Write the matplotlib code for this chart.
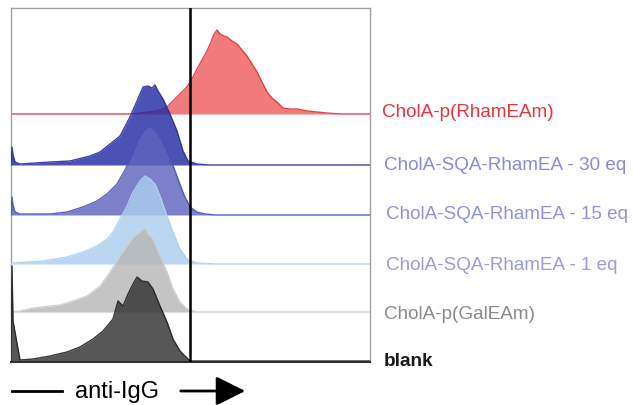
import numpy as np
import matplotlib
matplotlib.use("Agg")
import matplotlib.pyplot as plt
from matplotlib.colors import to_rgb

plt.rcParams['font.family'] = ['Liberation Sans', 'DejaVu Sans']

# histogram traces, x = channel, y = counts (stacked offsets below)
red_x = [0, 119, 139, 149, 156, 162, 169, 176, 182, 186, 191, 196, 200, 203, 206, 209, 213, 216, 221, 226, 231, 236, 241, 246, 251, 256, 261, 266, 272, 279, 286, 296, 306, 316, 329, 359]
red_y = [0, 0, 2, 4, 7, 13, 20, 27, 37, 45, 54, 63, 72, 80, 84, 80, 78, 77, 73, 70, 64, 58, 50, 42, 32, 22, 16, 12, 6, 5, 5, 3, 2, 1, 0, 0]

dblue_x = [0, 1, 2, 4, 9, 39, 59, 79, 89, 99, 109, 119, 126, 132, 137, 141, 144, 147, 152, 159, 166, 172, 177, 186, 199, 359]
dblue_y = [0, 18, 10, 3, 1, 3, 4, 9, 13, 21, 29, 48, 64, 78, 79, 77, 80, 74, 66, 51, 34, 14, 4, 1, 0, 0]

mblue_x = [0, 1, 2, 4, 9, 39, 56, 72, 86, 96, 106, 114, 121, 127, 133, 138, 143, 149, 155, 161, 167, 173, 179, 186, 194, 204, 359]
mblue_y = [0, 18, 10, 3, 1, 1, 3, 8, 14, 21, 31, 45, 60, 75, 85, 89, 86, 78, 66, 52, 36, 20, 8, 3, 1, 0, 0]

lblue_x = [0, 1, 32, 56, 72, 86, 96, 102, 109, 116, 122, 129, 134, 139, 144, 149, 156, 162, 169, 176, 186, 204, 359]
lblue_y = [0, 1, 3, 7, 12, 18, 25, 32, 45, 58, 72, 83, 88, 85, 80, 68, 48, 32, 15, 5, 1, 0, 0]

gray_x = [0, 9, 22, 39, 49, 62, 76, 89, 99, 109, 116, 122, 129, 134, 137, 142, 149, 156, 162, 169, 176, 186, 359]
gray_y = [0, 1, 4, 6, 7, 11, 16, 26, 40, 56, 66, 75, 80, 84, 78, 73, 56, 40, 23, 10, 3, 0, 0]

black_x = [0, 1, 2, 9, 22, 39, 56, 69, 82, 92, 102, 107, 112, 117, 122, 126, 131, 137, 142, 149, 156, 162, 169, 176, 179, 359]
black_y = [0, 95, 40, 1, 2, 5, 9, 14, 22, 30, 42, 60, 55, 67, 77, 84, 80, 79, 72, 55, 39, 22, 10, 3, 0, 0]

labels = ['CholA-p(RhamEAm)', 'CholA-SQA-RhamEA - 30 eq', 'CholA-SQA-RhamEA - 15 eq',
          'CholA-SQA-RhamEA - 1 eq', 'CholA-p(GalEAm)', 'blank']

series = [
    # x, y, offset, fill, edge, label colour, label y (px), label x (px)
    (red_x, red_y, 248, '#f27a7a', '#e2323c', '#e8343c', 113, 382),
    (dblue_x, dblue_y, 197, '#4c51b4', '#2c309c', '#8a8bd6', 166, 384),
    (mblue_x, mblue_y, 147, '#7c80c8', '#4a50b2', '#9294d8', 215, 386),
    (lblue_x, lblue_y, 98, '#bad7f2', '#b0d2f0', '#9a9ddc', 265, 386),
    (gray_x, gray_y, 50, '#c4c4c4', '#cfcfcf', '#8a8a8a', 315, 384),
    (black_x, black_y, 1, '#575757', '#222222', '#1a1a1a', 362, 384),
]

ALPHA = 0.82


def under_alpha(c, a=ALPHA):
    # colour that looks like c over white when drawn with alpha a
    rgb = np.array(to_rgb(c))
    return tuple(np.clip((rgb - (1 - a)) / a, 0, 1))


W, H = 633, 406
fig = plt.figure(figsize=(W / 100, H / 100), dpi=100)
ax = fig.add_axes([11 / W, (H - 363) / H, 359 / W, 354 / H])

for i, (x, y, off, fc, ec, tc, ty, tx) in enumerate(series):
    x = np.array(x)
    y = np.array(y) + off
    z = 2 + i
    ax.fill_between(x, off, y, color=under_alpha(fc), alpha=ALPHA, lw=0, zorder=z)
    ax.plot(x, y, color=ec, lw=1.0, zorder=z, alpha=0.9)
    weight = 'bold' if labels[i] == 'blank' else 'normal'
    fig.text(tx / W, 1 - ty / H, labels[i], color=tc, fontsize=13.6,
             va='center', ha='left', fontweight=weight)

# gate
ax.axvline(179, color='black', lw=1.8, zorder=20)

ax.set_xlim(0, 359)
ax.set_ylim(0, 354)
ax.set_xticks([])
ax.set_yticks([])
for s in ['top', 'left', 'right']:
    ax.spines[s].set_color('#a0a0a0')
    ax.spines[s].set_linewidth(1.0)
ax.spines['bottom'].set_color('#333333')
ax.spines['bottom'].set_linewidth(1.5)

# x axis caption
fig.text(117 / W, 1 - 392 / H, 'anti-IgG', fontsize=17, ha='center', va='center')
fig.add_artist(plt.Line2D([12 / W, 62 / W], [1 - 392 / H, 1 - 392 / H], color='black', lw=2))
fig.add_artist(matplotlib.patches.FancyArrowPatch((178 / W, 1 - 392 / H), (248 / W, 1 - 392 / H),
                                                  transform=fig.transFigure, arrowstyle='-|>,head_length=1.0,head_width=0.5',
                                                  mutation_scale=18, color='black', lw=2))

fig.savefig('out.png', dpi=100)
